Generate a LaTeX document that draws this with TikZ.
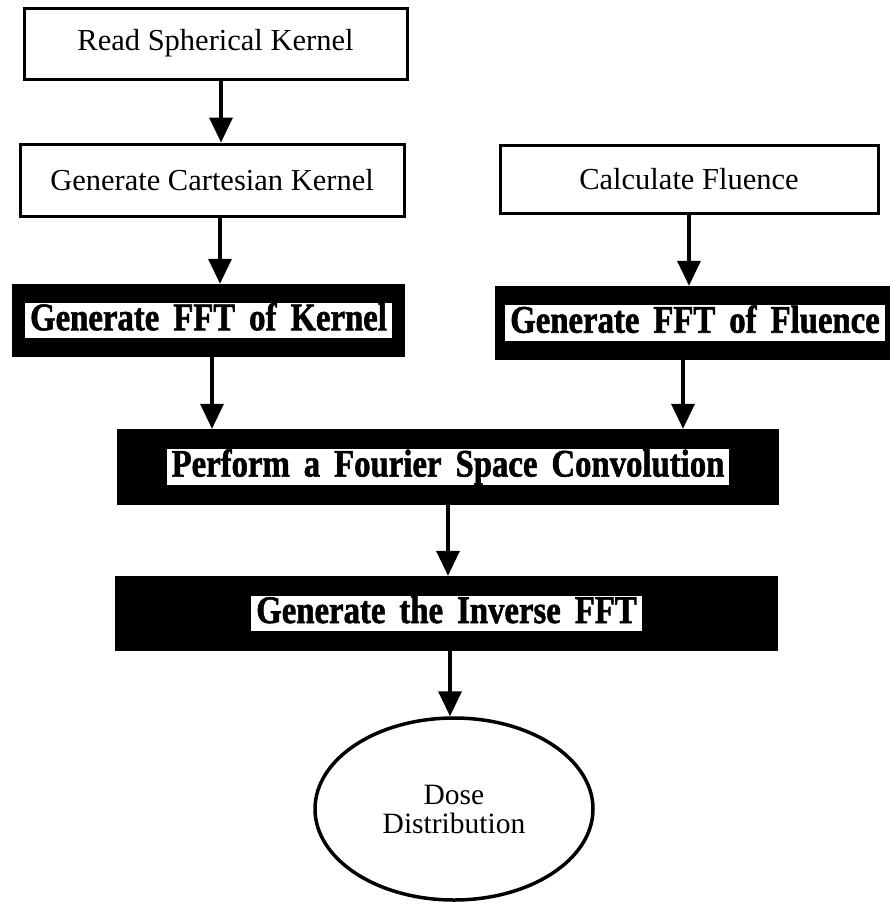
\documentclass[tikz,border=0pt]{standalone}
\usepackage{fontspec}
\setmainfont{Liberation Serif}
\newfontfamily\heavyfont[FakeStretch=0.84,FakeBold=1.4]{Liberation Serif}
\usetikzlibrary{arrows.meta,shapes.geometric}

% white strip behind the bold captions of the dark boxes
\newcommand\whitestrip[1]{{\setlength{\fboxsep}{0pt}\spaceskip=14pt\relax
  \colorbox{white}{\hspace{5pt}\rule[-8pt]{0pt}{35pt}#1\hspace{5pt}}}}

\tikzset{
  plainbox/.style={draw, line width=3pt, inner sep=0pt,
    font=\fontsize{30.5}{33}\selectfont},
  darkbox/.style={fill=black, inner sep=0pt,
    font=\heavyfont\bfseries\fontsize{39}{42}\selectfont},
  endbox/.style={ellipse, draw, line width=3.5pt, inner sep=0pt, align=center,
    font=\fontsize{29.5}{29}\selectfont},
  arr/.style={line width=3.5pt, -{Triangle[length=25pt,width=23pt]}}
}

\begin{document}
\begin{tikzpicture}[x=1pt, y=-1pt]
  \useasboundingbox[fill=white] (0,0) rectangle (890,905);

  % plain process boxes
  \node[plainbox, minimum width=383pt, minimum height=71pt] (read) at (215.5,43.5) {Read Spherical Kernel};
  \node[plainbox, minimum width=384pt, minimum height=72pt] (cart) at (212,180) {Generate Cartesian Kernel};
  \node[plainbox, minimum width=378pt, minimum height=68pt] (flu) at (689,179) {Calculate Fluence};

  % dark transform boxes
  \node[darkbox, minimum width=393pt, minimum height=73pt] (kfft) at (208.5,320.5) {\whitestrip{Generate FFT of Kernel}};
  \node[darkbox, minimum width=400pt, minimum height=74pt] (ffft) at (695,323) {\whitestrip{Generate FFT of Fluence}};
  \node[darkbox, minimum width=662pt, minimum height=76pt] (conv) at (448,467) {\whitestrip{Perform a Fourier Space Convolution}};
  \node[darkbox, minimum width=663pt, minimum height=75pt] (inv) at (446.5,613.5) {\whitestrip{Generate the Inverse FFT}};

  % result
  \node[endbox, minimum width=278pt, minimum height=182pt] (dose) at (454,809) {Dose\\Distribution};

  % connectors
  \draw[arr] ([xshift=5.5pt]read.south) -- ([xshift=5.5pt]read.south |- cart.north);
  \draw[arr] ([xshift=8pt]cart.south) -- ([xshift=8pt]cart.south |- kfft.north);
  \draw[arr] (flu.south) -- (flu.south |- ffft.north);
  \draw[arr] ([xshift=3.5pt]kfft.south) -- ([xshift=3.5pt]kfft.south |- conv.north);
  \draw[arr] ([xshift=-12pt]ffft.south) -- ([xshift=-12pt]ffft.south |- conv.north);
  \draw[arr] (conv.south) -- (conv.south |- inv.north);
  \draw[arr] ([xshift=3.5pt]inv.south) -- ([xshift=3.5pt]inv.south |- dose.north);
\end{tikzpicture}
\end{document}
